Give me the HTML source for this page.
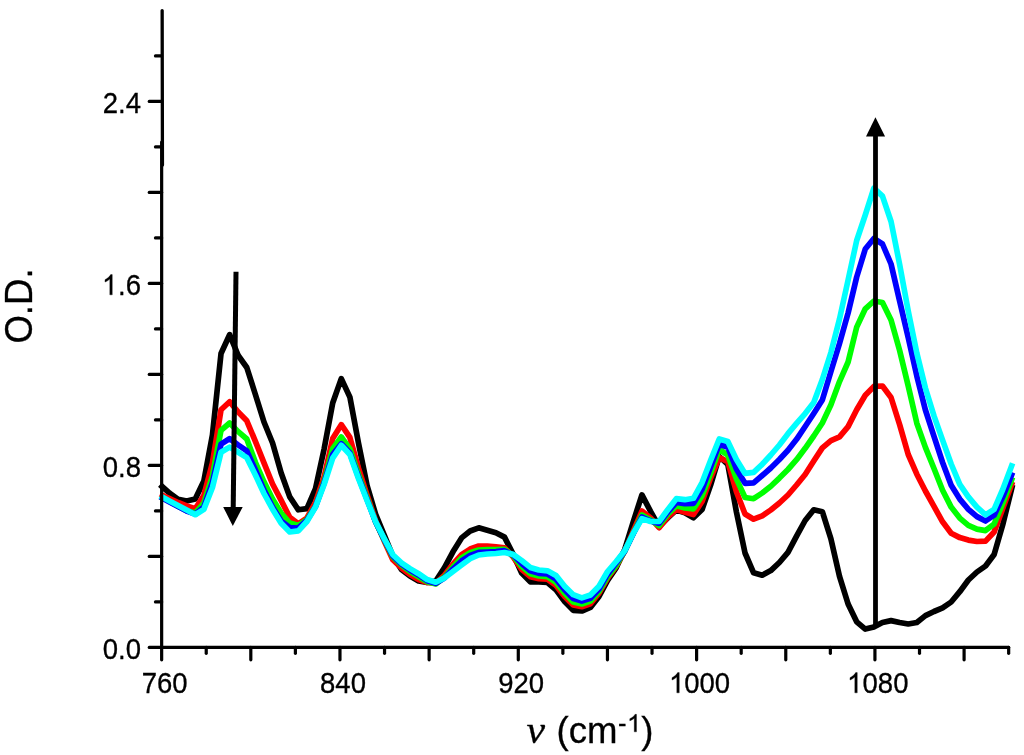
<!DOCTYPE html>
<html><head><meta charset="utf-8"><title>spectra</title>
<style>
html,body{margin:0;padding:0;background:#fff;}
body{width:1024px;height:755px;position:relative;overflow:hidden;font-family:"Liberation Sans",sans-serif;color:#000;}
.yl,.xl,.yt,.xt{filter:grayscale(1);-webkit-text-stroke:0.3px #000;}
.one{display:inline-block;margin-left:-0.5px;margin-right:0.5px;width:0.556em;height:0.7008em;vertical-align:baseline;overflow:visible;}
.yl,.xl{transform:scaleY(1.07);transform-origin:50% 55%;}
.yl{position:absolute;left:60px;width:81px;text-align:right;font-size:27.5px;line-height:33.0px;height:33.0px;white-space:nowrap;}
.xl{position:absolute;top:666px;width:100px;text-align:center;font-size:27.5px;line-height:33.0px;white-space:nowrap;}
.yt{position:absolute;left:-81px;top:285.5px;width:200px;height:40px;line-height:40px;text-align:center;font-size:36.6px;transform:rotate(-90deg) scaleY(1.08);transform-origin:center center;white-space:nowrap;}
.xt{position:absolute;left:526px;top:710px;width:400px;height:40px;line-height:40px;text-align:left;font-size:36.6px;white-space:nowrap;}
.xt .nu{font-family:"Liberation Serif",serif;font-style:italic;font-size:38px;margin-right:3.5px;display:inline-block;transform:translateX(0.6px) scaleX(1.1);transform-origin:0 50%;}
.xt sup{font-size:25.5px;vertical-align:baseline;position:relative;top:-11px;line-height:0;letter-spacing:1.2px;margin-left:0.4px;margin-right:-0.6px;}
</style></head><body>
<svg width="1024" height="755" viewBox="0 0 1024 755" style="position:absolute;left:0;top:0"><polyline points="160.00,484.70 160.90,485.50 169.49,493.10 178.08,499.20 186.67,501.00 195.26,499.00 203.85,481.00 212.44,435.00 221.03,353.50 229.62,334.70 238.21,355.50 246.80,367.50 255.39,394.50 263.98,422.00 272.57,443.00 281.16,473.00 289.75,496.90 298.34,509.80 306.93,508.60 315.52,488.50 324.11,449.00 332.70,403.00 341.29,378.60 349.88,397.10 358.47,443.00 367.06,485.50 375.65,514.40 384.24,535.00 392.83,556.00 401.42,569.40 410.01,576.00 418.60,581.00 427.19,582.50 435.78,581.00 444.37,567.90 452.96,551.80 461.55,537.90 470.14,531.00 478.73,527.80 487.32,530.30 495.91,532.70 504.50,537.10 513.09,554.00 521.68,573.00 530.27,581.80 538.86,581.80 547.45,582.50 556.04,589.80 564.63,601.50 573.22,610.30 581.81,611.00 590.40,607.40 598.99,596.40 607.58,580.30 616.17,567.90 624.76,549.40 633.35,521.50 641.94,494.90 650.53,511.30 659.12,526.60 667.71,518.00 676.30,510.00 684.89,512.70 693.48,517.80 702.07,509.50 710.66,484.80 719.25,456.50 727.84,464.50 736.43,512.00 745.02,553.00 753.61,572.80 762.20,575.20 770.79,570.60 779.38,562.50 787.97,552.30 796.56,536.10 805.15,520.50 813.74,509.80 822.33,511.70 830.92,538.80 839.51,576.40 848.10,604.00 856.69,621.80 865.28,629.10 873.87,626.90 882.46,622.50 891.05,620.60 899.64,622.50 908.23,624.00 916.82,622.50 925.41,615.60 934.00,611.50 942.59,607.90 951.18,602.00 959.77,591.70 968.36,580.00 976.95,572.00 985.54,566.00 994.13,554.50 1002.72,524.70 1011.31,490.00 1012.61,484.75" fill="none" stroke="#000000" stroke-width="5.7" stroke-linejoin="round" stroke-linecap="butt"/><polyline points="160.00,494.08 160.90,494.50 169.49,498.50 178.08,502.50 186.67,506.00 195.26,508.80 203.85,495.50 212.44,463.00 221.03,409.80 229.62,401.70 238.21,412.00 246.80,420.80 255.39,441.30 263.98,462.90 272.57,484.00 281.16,500.40 289.75,517.40 298.34,523.80 306.93,518.00 315.52,502.50 324.11,477.00 332.70,438.50 341.29,424.70 349.88,437.40 358.47,468.00 367.06,495.00 375.65,521.00 384.24,541.00 392.83,559.80 401.42,567.90 410.01,574.50 418.60,579.60 427.19,582.50 435.78,583.30 444.37,575.20 452.96,564.20 461.55,554.70 470.14,549.00 478.73,546.00 487.32,546.20 495.91,546.80 504.50,547.80 513.09,556.90 521.68,569.30 530.27,576.60 538.86,578.60 547.45,579.10 556.04,585.40 564.63,596.40 573.22,604.90 581.81,606.70 590.40,603.70 598.99,593.20 607.58,578.10 616.17,566.40 624.76,551.00 633.35,531.00 641.94,511.00 650.53,518.00 659.12,527.70 667.71,517.10 676.30,509.50 684.89,512.20 693.48,514.50 702.07,501.50 710.66,477.80 719.25,457.60 727.84,461.60 736.43,491.80 745.02,514.00 753.61,519.20 762.20,515.80 770.79,510.00 779.38,503.00 787.97,495.00 796.56,485.00 805.15,474.50 813.74,461.00 822.33,447.90 830.92,440.60 839.51,436.90 848.10,426.60 856.69,409.80 865.28,395.20 873.87,386.40 882.46,386.00 891.05,397.50 899.64,424.60 908.23,454.50 916.82,474.20 925.41,491.00 934.00,506.40 942.59,521.80 951.18,533.20 959.77,537.60 968.36,540.10 976.95,541.50 985.54,541.10 994.13,532.00 1002.72,508.60 1011.31,485.20 1012.61,481.66" fill="none" stroke="#ff0000" stroke-width="5.7" stroke-linejoin="round" stroke-linecap="butt"/><polyline points="160.00,496.52 160.90,497.00 169.49,501.60 178.08,506.20 186.67,510.80 195.26,513.00 203.85,503.00 212.44,476.00 221.03,430.30 229.62,423.00 238.21,431.70 246.80,439.00 255.39,462.30 263.98,481.80 272.57,499.00 281.16,513.00 289.75,523.00 298.34,525.50 306.93,519.50 315.52,506.00 324.11,481.50 332.70,448.60 341.29,437.00 349.88,449.00 358.47,474.50 367.06,498.00 375.65,522.00 384.24,540.00 392.83,557.00 401.42,565.00 410.01,571.60 418.60,576.70 427.19,581.80 435.78,584.00 444.37,577.00 452.96,567.00 461.55,558.00 470.14,552.80 478.73,550.00 487.32,549.70 495.91,549.60 504.50,549.30 513.09,555.70 521.68,566.40 530.27,573.70 538.86,575.90 547.45,576.60 556.04,582.50 564.63,593.20 573.22,602.00 581.81,604.00 590.40,601.10 598.99,591.30 607.58,576.60 616.17,565.40 624.76,551.00 633.35,533.00 641.94,515.00 650.53,520.00 659.12,525.50 667.71,514.20 676.30,505.80 684.89,508.00 693.48,508.80 702.07,495.80 710.66,473.00 719.25,449.30 727.84,455.20 736.43,478.90 745.02,497.50 753.61,498.70 762.20,493.00 770.79,486.20 779.38,478.10 787.97,469.50 796.56,459.70 805.15,448.30 813.74,436.00 822.33,423.00 830.92,404.70 839.51,381.60 848.10,362.00 856.69,327.10 865.28,308.80 873.87,301.00 882.46,302.50 891.05,320.00 899.64,350.50 908.23,386.00 916.82,423.20 925.41,447.40 934.00,468.50 942.59,490.30 951.18,507.10 959.77,518.10 968.36,525.40 976.95,529.10 985.54,530.60 994.13,524.00 1002.72,503.50 1011.31,480.80 1012.61,477.36" fill="none" stroke="#00ff00" stroke-width="5.7" stroke-linejoin="round" stroke-linecap="butt"/><polyline points="160.00,496.81 160.90,497.30 169.49,502.00 178.08,506.50 186.67,511.00 195.26,514.20 203.85,507.00 212.44,482.50 221.03,444.20 229.62,438.60 238.21,445.00 246.80,450.80 255.39,470.00 263.98,490.00 272.57,507.00 281.16,521.00 289.75,527.50 298.34,528.00 306.93,520.50 315.52,506.50 324.11,483.00 332.70,454.50 341.29,443.70 349.88,453.00 358.47,477.00 367.06,499.50 375.65,522.00 384.24,539.50 392.83,556.00 401.42,564.00 410.01,570.00 418.60,575.00 427.19,580.70 435.78,583.30 444.37,578.00 452.96,569.00 461.55,561.00 470.14,555.40 478.73,552.40 487.32,552.00 495.91,551.50 504.50,550.70 513.09,555.00 521.68,563.50 530.27,570.80 538.86,573.30 547.45,574.00 556.04,579.10 564.63,589.80 573.22,598.60 581.81,601.10 590.40,598.20 598.99,589.10 607.58,574.20 616.17,563.00 624.76,551.00 633.35,533.50 641.94,517.00 650.53,521.00 659.12,523.40 667.71,512.00 676.30,502.50 684.89,503.60 693.48,503.30 702.07,489.20 710.66,466.80 719.25,444.20 727.84,447.30 736.43,469.00 745.02,483.30 753.61,482.80 762.20,475.50 770.79,468.00 779.38,459.50 787.97,450.30 796.56,439.30 805.15,426.50 813.74,413.50 822.33,400.00 830.92,371.50 839.51,343.50 848.10,313.00 856.69,277.00 865.28,249.00 873.87,238.50 882.46,244.00 891.05,264.00 899.64,301.00 908.23,337.50 916.82,376.00 925.41,410.00 934.00,436.40 942.59,462.50 951.18,485.20 959.77,499.10 968.36,509.30 976.95,516.60 985.54,521.00 994.13,515.20 1002.72,496.90 1011.31,475.60 1012.61,472.38" fill="none" stroke="#0000ff" stroke-width="5.7" stroke-linejoin="round" stroke-linecap="butt"/><polyline points="160.00,495.82 160.90,496.30 169.49,500.90 178.08,505.50 186.67,510.10 195.26,514.70 203.85,509.40 212.44,487.50 221.03,452.30 229.62,447.10 238.21,452.30 246.80,457.70 255.39,475.00 263.98,493.50 272.57,509.20 281.16,523.20 289.75,532.00 298.34,530.90 306.93,521.50 315.52,507.00 324.11,484.50 332.70,458.20 341.29,445.30 349.88,454.50 358.47,478.50 367.06,500.50 375.65,521.70 384.24,538.60 392.83,554.70 401.42,562.80 410.01,568.60 418.60,573.70 427.19,579.60 435.78,582.20 444.37,578.10 452.96,571.50 461.55,565.00 470.14,558.70 478.73,555.00 487.32,554.00 495.91,553.50 504.50,552.50 513.09,554.40 521.68,560.50 530.27,567.40 538.86,570.00 547.45,570.80 556.04,575.50 564.63,586.20 573.22,594.70 581.81,597.90 590.40,595.00 598.99,586.20 607.58,571.50 616.17,561.50 624.76,550.80 633.35,533.20 641.94,518.60 650.53,521.50 659.12,521.50 667.71,509.80 676.30,498.70 684.89,499.70 693.48,498.30 702.07,482.60 710.66,460.30 719.25,439.00 727.84,441.50 736.43,459.50 745.02,473.40 753.61,472.30 762.20,464.30 770.79,455.00 779.38,445.00 787.97,433.70 796.56,423.40 805.15,413.60 813.74,402.50 822.33,379.50 830.92,352.50 839.51,319.00 848.10,280.00 856.69,240.50 865.28,215.00 873.87,188.20 882.46,196.20 891.05,221.50 899.64,264.50 908.23,311.00 916.82,353.00 925.41,388.00 934.00,415.90 942.59,440.10 951.18,464.00 959.77,484.40 968.36,496.90 976.95,507.10 985.54,514.80 994.13,509.30 1002.72,489.50 1011.31,466.80 1012.61,463.36" fill="none" stroke="#00ffff" stroke-width="5.7" stroke-linejoin="round" stroke-linecap="butt"/><g stroke="#000" stroke-width="3.2" stroke-linecap="round" fill="none"><line x1="161.65" y1="142" x2="161.65" y2="647.4"/><line x1="161.65" y1="647.4" x2="1008.6" y2="647.4"/><line x1="149.25" y1="647.40" x2="161.65" y2="647.40"/><line x1="155.45" y1="601.90" x2="161.65" y2="601.90"/><line x1="149.25" y1="556.40" x2="161.65" y2="556.40"/><line x1="155.45" y1="510.90" x2="161.65" y2="510.90"/><line x1="149.25" y1="465.40" x2="161.65" y2="465.40"/><line x1="155.45" y1="419.90" x2="161.65" y2="419.90"/><line x1="149.25" y1="374.40" x2="161.65" y2="374.40"/><line x1="155.45" y1="328.90" x2="161.65" y2="328.90"/><line x1="149.25" y1="283.40" x2="161.65" y2="283.40"/><line x1="155.45" y1="237.90" x2="161.65" y2="237.90"/><line x1="149.25" y1="192.40" x2="161.65" y2="192.40"/><line x1="155.45" y1="146.90" x2="161.65" y2="146.90"/><line x1="149.25" y1="101.40" x2="161.65" y2="101.40"/><line x1="155.45" y1="55.90" x2="161.65" y2="55.90"/><line x1="161.65" y1="647.4" x2="161.65" y2="659.80"/><line x1="206.23" y1="647.4" x2="206.23" y2="653.30"/><line x1="250.81" y1="647.4" x2="250.81" y2="659.80"/><line x1="295.39" y1="647.4" x2="295.39" y2="653.30"/><line x1="339.97" y1="647.4" x2="339.97" y2="659.80"/><line x1="384.55" y1="647.4" x2="384.55" y2="653.30"/><line x1="429.13" y1="647.4" x2="429.13" y2="659.80"/><line x1="473.71" y1="647.4" x2="473.71" y2="653.30"/><line x1="518.29" y1="647.4" x2="518.29" y2="659.80"/><line x1="562.87" y1="647.4" x2="562.87" y2="653.30"/><line x1="607.45" y1="647.4" x2="607.45" y2="659.80"/><line x1="652.03" y1="647.4" x2="652.03" y2="653.30"/><line x1="696.61" y1="647.4" x2="696.61" y2="659.80"/><line x1="741.19" y1="647.4" x2="741.19" y2="653.30"/><line x1="785.77" y1="647.4" x2="785.77" y2="659.80"/><line x1="830.35" y1="647.4" x2="830.35" y2="653.30"/><line x1="874.93" y1="647.4" x2="874.93" y2="659.80"/><line x1="919.51" y1="647.4" x2="919.51" y2="653.30"/><line x1="964.09" y1="647.4" x2="964.09" y2="659.80"/><line x1="1008.67" y1="647.4" x2="1008.67" y2="653.30"/></g><line x1="162.15" y1="10.6" x2="162.45" y2="165" stroke="#000" stroke-width="3.3" stroke-linecap="round"/><line x1="236.0" y1="271.7" x2="233.2" y2="508" stroke="#000" stroke-width="5"/><polygon points="223.2,507 242.7,507 232.8,526" fill="#000"/><line x1="875.5" y1="624" x2="875.5" y2="135" stroke="#000" stroke-width="4.8"/><polygon points="866,136.6 885.1,136.6 875.45,117.3" fill="#000"/></svg>
<div class="yl" style="top:85.7px">2.4</div><div class="yl" style="top:267.7px"><svg class="one" viewBox="0 0 1139 1500" preserveAspectRatio="none"><path transform="translate(0,1500) scale(1,-1)" d="M763 0L583 0L583 1147Q518 1085 412.5 1023Q307 961 223 930L223 1104Q374 1175 487 1276Q600 1377 647 1472L763 1472Z" fill="#000" stroke="#000" stroke-width="26"/></svg>.6</div><div class="yl" style="top:449.7px">0.8</div><div class="yl" style="top:631.7px">0.0</div><div class="xl" style="left:114.7px">760</div><div class="xl" style="left:293.0px">840</div><div class="xl" style="left:471.2px">920</div><div class="xl" style="left:649.6px"><svg class="one" viewBox="0 0 1139 1500" preserveAspectRatio="none"><path transform="translate(0,1500) scale(1,-1)" d="M763 0L583 0L583 1147Q518 1085 412.5 1023Q307 961 223 930L223 1104Q374 1175 487 1276Q600 1377 647 1472L763 1472Z" fill="#000" stroke="#000" stroke-width="26"/></svg>000</div><div class="xl" style="left:827.9px"><svg class="one" viewBox="0 0 1139 1500" preserveAspectRatio="none"><path transform="translate(0,1500) scale(1,-1)" d="M763 0L583 0L583 1147Q518 1085 412.5 1023Q307 961 223 930L223 1104Q374 1175 487 1276Q600 1377 647 1472L763 1472Z" fill="#000" stroke="#000" stroke-width="26"/></svg>080</div>
<div class="yt">O.D.</div>
<div class="xt"><span class="nu">&#957;</span> (cm<sup>-<svg class="one" viewBox="0 0 1139 1500" preserveAspectRatio="none"><path transform="translate(0,1500) scale(1,-1)" d="M763 0L583 0L583 1147Q518 1085 412.5 1023Q307 961 223 930L223 1104Q374 1175 487 1276Q600 1377 647 1472L763 1472Z" fill="#000" stroke="#000" stroke-width="26"/></svg></sup>)</div>
</body></html>
